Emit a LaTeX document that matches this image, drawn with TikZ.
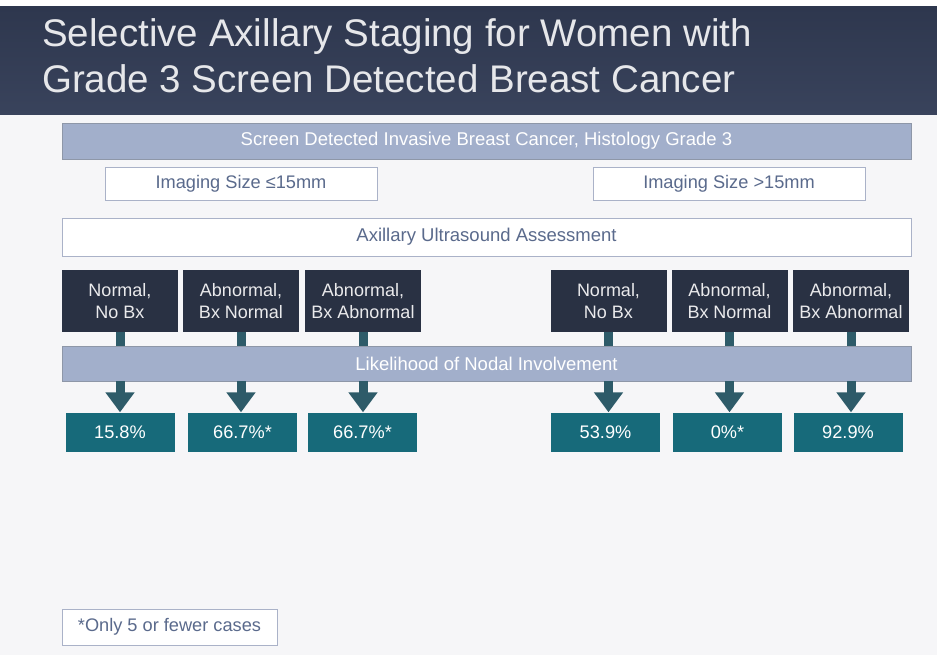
\documentclass[tikz,border=0pt]{standalone}
\usepackage{fontspec}
\setmainfont{Liberation Sans}
\usepackage{xcolor}
\usetikzlibrary{positioning, arrows.meta, shadings}

\definecolor{headnavy}{HTML}{2E374E}
\definecolor{headnavylow}{HTML}{39435C}
\definecolor{pagegray}{HTML}{F6F6F8}
\definecolor{barfill}{HTML}{A2AFCB}
\definecolor{barline}{HTML}{8E97A8}
\definecolor{boxline}{HTML}{AAB2C8}
\definecolor{boxtext}{HTML}{5A6A8C}
\definecolor{darkbox}{HTML}{293143}
\definecolor{stemteal}{HTML}{2E5B69}
\definecolor{resteal}{HTML}{176A7A}

\tikzset{
	bar/.style={draw=barline, line width=0.8pt, fill=barfill, text=white, minimum width=849pt, minimum height=36pt, inner sep=0pt, font=\fontsize{18.5}{22}\selectfont},
	plainbar/.style={bar, draw=boxline, fill=white, text=boxtext},
	sizebox/.style={draw=boxline, line width=0.8pt, fill=white, text=boxtext, minimum width=272pt, minimum height=33pt, inner sep=0pt, font=\fontsize{18.2}{22}\selectfont},
	outcome/.style={fill=darkbox, text=white!90!darkbox, minimum width=116pt, minimum height=62pt, inner sep=0pt, align=center, font=\fontsize{18}{22}\selectfont},
	result/.style={fill=resteal, text=white, minimum width=109pt, minimum height=39pt, inner sep=0pt, font=\fontsize{18.2}{22}\selectfont},
	stem/.style={draw=stemteal, line width=9pt},
	fatarrow/.style={stem, -{Triangle[length=20pt,width=28pt]}},
}

\begin{document}
\begin{tikzpicture}[x=1pt, y=-1pt]
	\useasboundingbox (0,0) rectangle (937,655);
	\fill[white] (0,0) rectangle (937,655);
	\fill[pagegray] (0,115) rectangle (937,655);
	\shade[top color=headnavy, bottom color=headnavylow] (0,7) rectangle (937,115);

	% title
	\node[anchor=base west, inner sep=0pt, text=white!88!headnavy, font=\fontsize{38.5}{46}\selectfont] (title1) at (42,47) {Selective Axillary Staging for Women with};
	\node[anchor=base west, inner sep=0pt, text=white!88!headnavy, font=\fontsize{38.5}{46}\selectfont] (title2) at (42,93) {Grade 3 Screen Detected Breast Cancer};

	% bars
	\node[bar] (cancer) at (486.5,141) {Screen Detected Invasive Breast Cancer, Histology Grade 3};
	\node[sizebox] (small) at (241,183.5) {Imaging Size ≤15mm};
	\node[sizebox] (large) at (729,183.5) {Imaging Size >15mm};
	\node[plainbar, minimum height=38pt] (axus) at (486.5,237) {Axillary Ultrasound Assessment};

	% ultrasound outcomes
	\node[outcome] (s1) at (120,301) {Normal,\\No Bx};
	\node[outcome] (s2) at (241,301) {Abnormal,\\Bx Normal};
	\node[outcome] (s3) at (363,301) {Abnormal,\\Bx Abnormal};
	\node[outcome] (l1) at (608.5,301) {Normal,\\No Bx};
	\node[outcome] (l2) at (729.5,301) {Abnormal,\\Bx Normal};
	\node[outcome] (l3) at (851,301) {Abnormal,\\Bx Abnormal};

	\node[bar, minimum height=35pt] (nodal) at (486.5,363.5) {Likelihood of Nodal Involvement};

	% percentages
	\node[result] (rs1) at (120,432) {15.8\%};
	\node[result] (rs2) at (242.5,432) {66.7\%*};
	\node[result] (rs3) at (362.5,432) {66.7\%*};
	\node[result] (rl1) at (605.5,432) {53.9\%};
	\node[result] (rl2) at (727.5,432) {0\%*};
	\node[result] (rl3) at (848,432) {92.9\%};

	\foreach \o/\r in {s1/rs1, s2/rs2, s3/rs3, l1/rl1, l2/rl2, l3/rl3} {
		\draw[stem] (\o.south) -- (nodal.north -| \o);
		\draw[fatarrow] (nodal.south -| \o) -- (\r.north -| \o);
	}

	\node[sizebox, minimum width=215pt, minimum height=36pt] (note) at (169.5,627) {*Only 5 or fewer cases};
\end{tikzpicture}
\end{document}
